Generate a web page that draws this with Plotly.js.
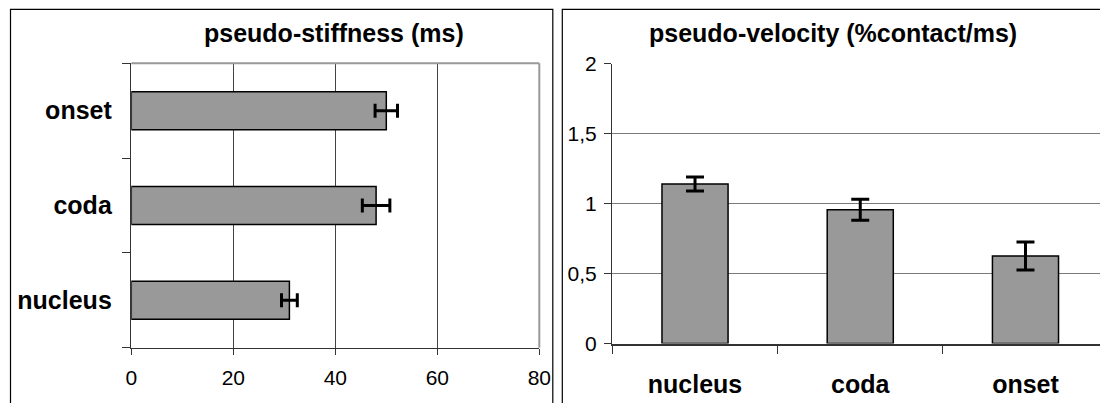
<!DOCTYPE html>
<html>
<head>
<meta charset="utf-8">
<script src="https://cdn.plot.ly/plotly-3.0.1.min.js"></script>
<style>
  html, body { margin: 0; padding: 0; background: #ffffff; }
  #chart { width: 1100px; height: 403px; }
</style>
</head>
<body>
<div id="chart"></div>
<script>
// ---- data ----
const stiffCategories = ['nucleus', 'coda', 'onset'];
const stiffValues = [31, 48, 50];
const stiffErrors = [1.55, 2.7, 2.2];
const stiffTickVals = [0, 20, 40, 60, 80];
const stiffTitle = 'pseudo-stiffness (ms)';

const velCategories = ['nucleus', 'coda', 'onset'];
const velValues = [1.14, 0.955, 0.625];
const velErrors = [0.05, 0.075, 0.1];
const velTickVals = [0, 0.5, 1, 1.5, 2];
const velTickText = ['0', '0,5', '1', '1,5', '2'];
const velTitle = 'pseudo-velocity (%contact/ms)';

// ---- geometry helpers ----
const W = 1100, H = 403;
const px = v => v / W;
const py = v => (H - v) / H;
const FONT = 'Liberation Sans, Arial, sans-serif';

const traces = [
  {
    type: 'bar',
    orientation: 'h',
    x: stiffValues,
    y: stiffCategories,
    xaxis: 'x',
    yaxis: 'y',
    marker: { color: '#999999', line: { color: '#000000', width: 1.5 } },
    error_x: { type: 'data', array: stiffErrors, visible: true, color: '#000000', thickness: 3, width: 7 },
    hoverinfo: 'skip',
    showlegend: false
  },
  {
    type: 'bar',
    x: velCategories,
    y: velValues,
    xaxis: 'x2',
    yaxis: 'y2',
    marker: { color: '#999999', line: { color: '#000000', width: 1.5 } },
    error_y: { type: 'data', array: velErrors, visible: true, color: '#000000', thickness: 3, width: 9 },
    hoverinfo: 'skip',
    showlegend: false
  }
];

const layout = {
  width: W,
  height: H,
  autosize: false,
  margin: { l: 0, r: 0, t: 0, b: 0, pad: 0 },
  paper_bgcolor: '#ffffff',
  plot_bgcolor: '#ffffff',
  bargap: 0.6,
  showlegend: false,
  font: { family: FONT, color: '#000000', size: 21 },
  xaxis: {
    domain: [px(131.3), px(539.3)],
    anchor: 'y',
    range: [0, 80],
    tickmode: 'array',
    tickvals: stiffTickVals,
    ticks: 'outside',
    ticklen: 6,
    tickwidth: 1,
    tickcolor: '#333333',
    showline: true,
    linecolor: '#333333',
    linewidth: 1.5,
    showgrid: true,
    gridcolor: '#444444',
    gridwidth: 1,
    zeroline: false,
    ticklabelstandoff: 5,
    tickfont: { family: FONT, size: 21, color: '#000000' },
    fixedrange: true
  },
  yaxis: {
    domain: [py(347.7), py(63.3)],
    anchor: 'x',
    type: 'category',
    categoryorder: 'array',
    categoryarray: stiffCategories,
    range: [-0.5, 2.5],
    tickson: 'boundaries',
    ticks: 'outside',
    ticklen: 8,
    tickwidth: 1,
    tickcolor: '#333333',
    showline: true,
    linecolor: '#333333',
    linewidth: 1.5,
    showgrid: false,
    zeroline: false,
    ticklabelstandoff: 13,
    tickfont: { family: FONT, size: 25, color: '#000000', weight: 'bold' },
    fixedrange: true
  },
  xaxis2: {
    domain: [px(612.4), 1],
    anchor: 'y2',
    type: 'category',
    categoryorder: 'array',
    categoryarray: velCategories,
    range: [-0.5, 2.451],
    tickson: 'boundaries',
    ticks: 'outside',
    ticklen: 8,
    tickwidth: 1,
    tickcolor: '#333333',
    showline: true,
    linecolor: '#333333',
    linewidth: 2,
    showgrid: false,
    zeroline: false,
    ticklabelstandoff: 17,
    tickfont: { family: FONT, size: 25, color: '#000000', weight: 'bold' },
    fixedrange: true
  },
  yaxis2: {
    domain: [py(343.5), py(63.5)],
    anchor: 'x2',
    range: [0, 2],
    tickmode: 'array',
    tickvals: velTickVals,
    ticktext: velTickText,
    ticks: 'outside',
    ticklen: 7,
    tickwidth: 1,
    tickcolor: '#333333',
    showline: true,
    linecolor: '#333333',
    linewidth: 1.5,
    showgrid: true,
    gridcolor: '#7a7a7a',
    gridwidth: 1.5,
    zeroline: false,
    ticklabelstandoff: 3,
    tickfont: { family: FONT, size: 21, color: '#000000' },
    fixedrange: true
  },
  shapes: [
    // plot frame (top and right) of left chart
    { type: 'line', xref: 'x domain', yref: 'y domain', x0: 0, x1: 1, y0: 1, y1: 1,
      line: { color: '#999999', width: 2 }, layer: 'above' },
    { type: 'line', xref: 'x domain', yref: 'y domain', x0: 1, x1: 1, y0: 0, y1: 1,
      line: { color: '#999999', width: 2 }, layer: 'above' },
    // panel borders
    { type: 'rect', xref: 'paper', yref: 'paper', x0: px(10.5), x1: px(552.8), y0: -0.1, y1: py(9.3),
      line: { color: '#000000', width: 1.2 }, fillcolor: 'rgba(0,0,0,0)', layer: 'above' },
    { type: 'rect', xref: 'paper', yref: 'paper', x0: px(562.3), x1: 1.1, y0: -0.1, y1: py(9.3),
      line: { color: '#000000', width: 1.2 }, fillcolor: 'rgba(0,0,0,0)', layer: 'above' }
  ],
  annotations: [
    { text: stiffTitle, xref: 'paper', yref: 'paper', x: px(334), y: py(33),
      xanchor: 'center', yanchor: 'middle', showarrow: false,
      font: { family: FONT, size: 25, color: '#000000', weight: 'bold' } },
    { text: velTitle, xref: 'paper', yref: 'paper', x: px(833), y: py(33),
      xanchor: 'center', yanchor: 'middle', showarrow: false,
      font: { family: FONT, size: 25, color: '#000000', weight: 'bold' } }
  ]
};

Plotly.newPlot('chart', traces, layout, { staticPlot: true, displayModeBar: false });
</script>
</body>
</html>
